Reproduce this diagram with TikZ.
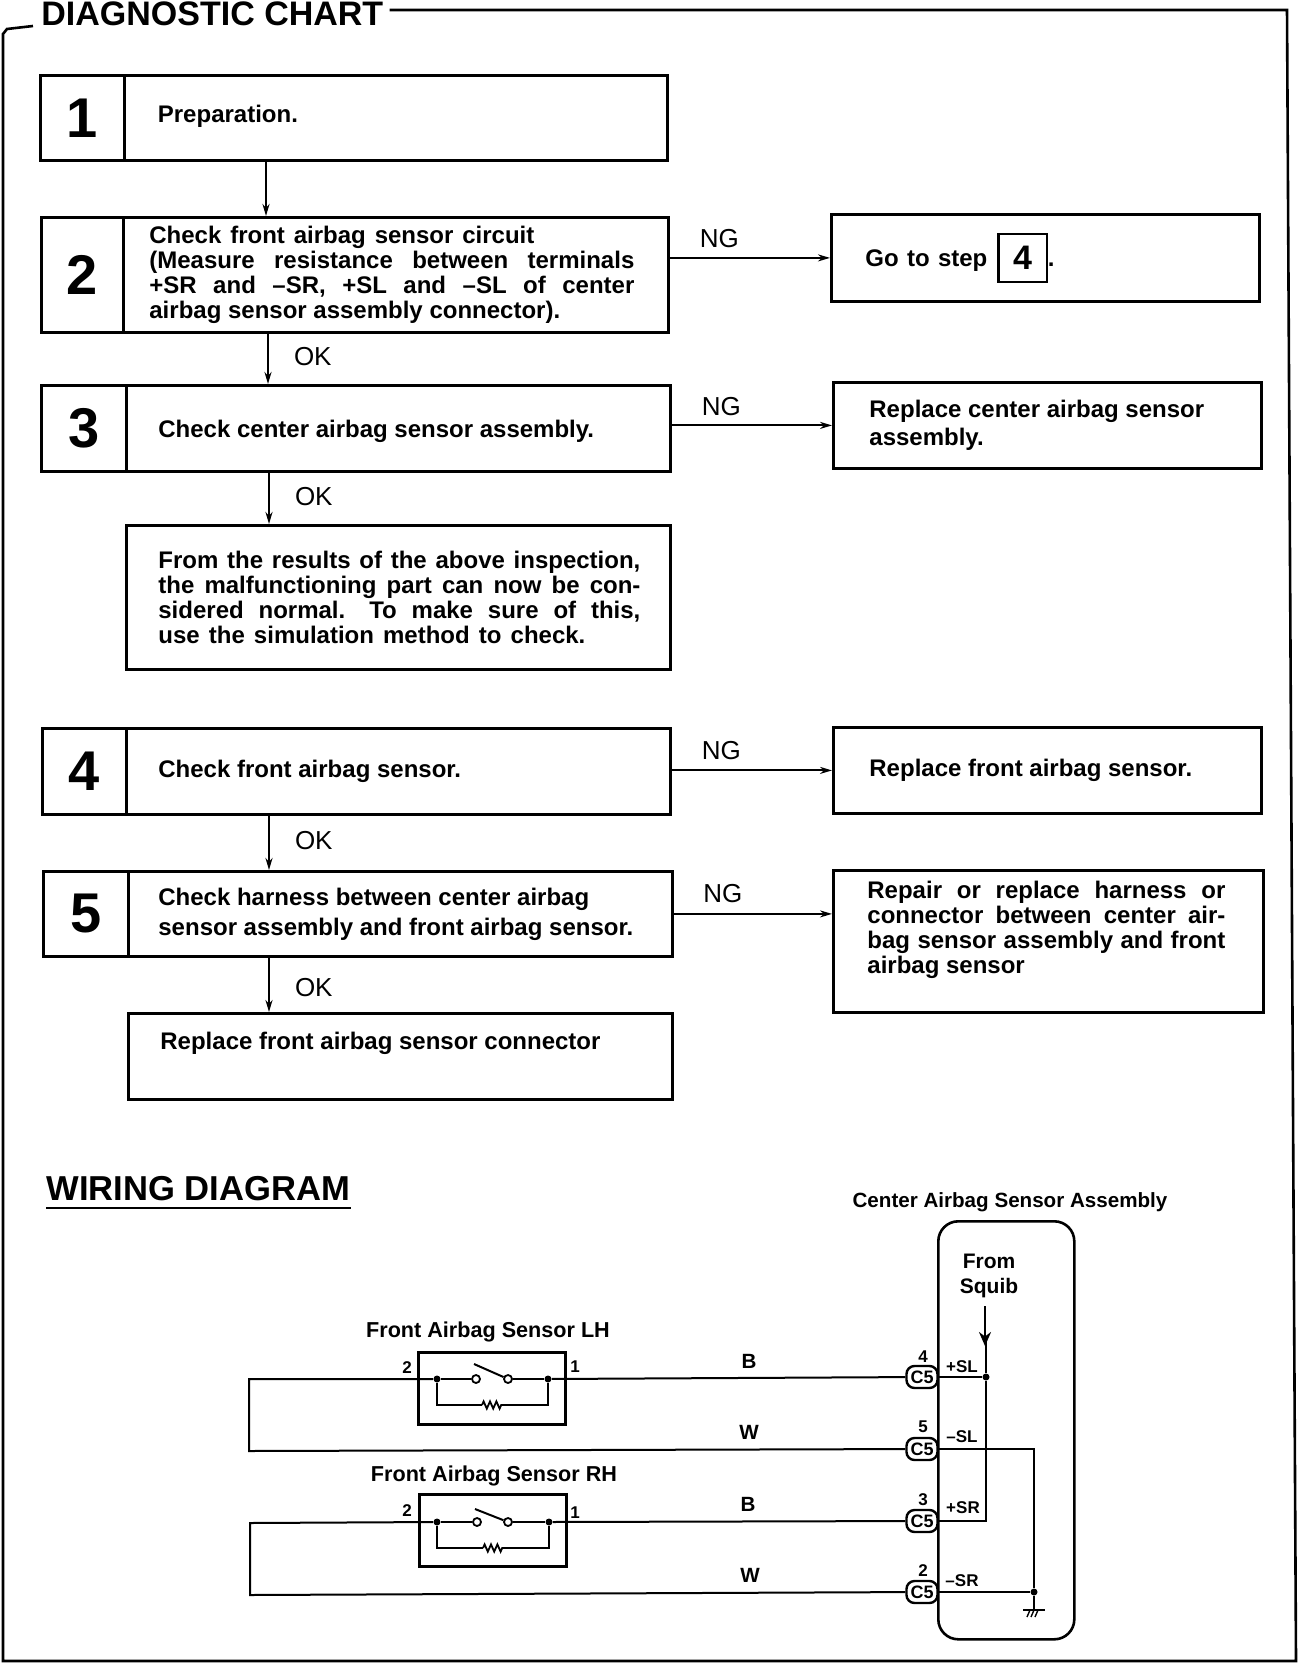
\documentclass[tikz,border=0pt]{standalone}
\usepackage{fontspec}
\setmainfont{Liberation Sans}
\usetikzlibrary{arrows.meta,decorations.pathmorphing}
\newcommand{\jline}[1]{\makebox[#1pt][s]}

\tikzset{
  numbox/.style={draw, line width=1.4pt, anchor=north west, inner sep=0pt,
    font=\bfseries\fontsize{28}{28}\selectfont},
  bodybox/.style={draw, line width=1.4pt, anchor=north west, align=flush left, inner ysep=0pt,
    font=\bfseries\fontsize{12}{12.5}\selectfont},
  flow/.style={line width=1pt, -{Stealth[length=6pt,width=3.5pt]}},
  tagtxt/.style={font=\fontsize{13}{13}\selectfont, inner sep=0pt},
  headtxt/.style={font=\bfseries\fontsize{17}{17}\selectfont, inner sep=3pt},
  captxt/.style={font=\bfseries\fontsize{10.3}{12.5}\selectfont, inner sep=0pt, align=center},
  frontcap/.style={font=\bfseries\fontsize{10.8}{12.5}\selectfont, inner sep=0pt},
  pintxt/.style={font=\bfseries\fontsize{8.5}{8.5}\selectfont, inner sep=0pt},
  conn/.style={draw, line width=1.2pt, rounded corners=4pt, minimum width=15.5pt,
    minimum height=11pt, inner sep=0pt, fill=white, font=\bfseries\fontsize{9}{9}\selectfont},
  jdot/.style={circle, fill=black, minimum size=3.5pt, inner sep=0pt},
  opendot/.style={circle, draw, fill=white, line width=0.9pt, minimum size=4pt, inner sep=0pt},
  wire/.style={line width=1pt},
  sensorbox/.style={draw, line width=1.3pt, anchor=north west, minimum width=73.5pt, minimum height=36pt, inner sep=0pt},
  zig/.style={line width=0.9pt, decorate, decoration={zigzag, amplitude=1.8pt, segment length=3.2pt}}
}

\begin{document}
\begin{tikzpicture}[x=0.5pt, y=-0.5pt]
  \useasboundingbox (0,0) rectangle (1312,1664);

  \node[headtxt, anchor=west] (chart) at (35,14) {DIAGNOSTIC CHART};
  \draw[line width=1.3pt] (chart.east) ++(0,-4) -- (1287,10) -- (1296,1661) -- (3,1661) -- (3,34) -- (7,29) -- (33,26);

  % steps on the left
  \node[numbox, minimum width=42pt, minimum height=42.5pt] (n1) at (39,74) {1};
  \node[bodybox, text width=238pt, inner xsep=16.75pt, minimum height=42.5pt] (b1) at (123,74) {Preparation.\\[-8.5pt]\mbox{}};

  \node[numbox, minimum width=41pt, minimum height=57.5pt] (n2) at (40,216) {2};
  \node[bodybox, text width=246.5pt, inner xsep=13pt, minimum height=57.5pt] (b2) at (122,216) {\jline{192.5}{Check front airbag sensor circuit}\\
    \jline{242.5}{(Measure resistance between terminals}\\
    \jline{242.5}{+SR and –SR, +SL and –SL of center}\\
    airbag sensor assembly connector).};

  \node[numbox, minimum width=42.5pt, minimum height=43pt] (n3) at (40,384) {3};
  \node[bodybox, text width=240pt, inner xsep=16pt, minimum height=43pt] (b3) at (125,384) {\rule{0pt}{12pt}Check center airbag sensor assembly.};
  \node[bodybox, text width=240pt, inner xsep=16pt, minimum height=72pt] (b3a) at (125,524) {\jline{241}{From the results of the above inspection,}\\
    \jline{241}{the malfunctioning part can now be con-}\\
    \jline{241}{sidered normal.\hspace*{1em}To make sure of this,}\\
    \jline{213.5}{use the simulation method to check.}};

  \node[numbox, minimum width=42pt, minimum height=43pt] (n4) at (41,727) {4};
  \node[bodybox, text width=240pt, inner xsep=16pt, minimum height=43pt] (b4) at (125,727) {Check front airbag sensor.};

  \node[numbox, minimum width=42.5pt, minimum height=42.5pt] (n5) at (42,870) {5};
  \node[bodybox, text width=242pt, inner xsep=15pt, minimum height=42.5pt] (b5) at (127,870) {Check harness between center airbag\\[2.5pt] sensor assembly and front airbag sensor.};
  \node[bodybox, text width=240pt, inner xsep=16pt, minimum height=43pt] (b5a) at (127,1012) {Replace front airbag sensor connector\\[3.5pt]\mbox{}};

  % results on the right
  \node[bodybox, text width=180pt, inner xsep=17pt, minimum height=43.5pt] (g1) at (830,213) {\jline{61}{Go to step}\kern5pt\setlength{\fboxrule}{1.1pt}\fbox{\makebox[17pt]{\rule[-4pt]{0pt}{17pt}\raisebox{-1.5pt}{\fontsize{17}{17}\selectfont 4}}}.};
  \node[bodybox, text width=178pt, inner xsep=18pt, minimum height=43pt] (g2) at (832,381) {Replace center airbag sensor\\[1.5pt]assembly.};
  \node[bodybox, text width=178pt, inner xsep=18pt, minimum height=43pt] (g4) at (832,726) {Replace front airbag sensor.};
  \node[bodybox, text width=181pt, inner xsep=17pt, minimum height=71pt] (g5) at (832,869) {\jline{179}{Repair or replace harness or}\\
    \jline{179}{connector between center air-}\\
    \jline{179}{bag sensor assembly and front}\\
    airbag sensor\\[1.5pt]\mbox{}};

  \coordinate (c1) at (266,0);
  \coordinate (c2) at (268,0);
  \coordinate (c3) at (269,0);

  \draw[flow] (b1.south -| c1) -- (b2.north -| c1);
  \draw[flow] (b2.south -| c2) -- node[tagtxt, pos=0.45, right=12.5pt] (ok2) {OK} (b3.north -| c2);
  \draw[flow] (b3.south -| c3) -- node[tagtxt, pos=0.46, right=12.5pt] (ok3) {OK} (b3a.north -| c3);
  \draw[flow] (b4.south -| c3) -- node[tagtxt, pos=0.46, right=12.5pt] (ok4) {OK} (b5.north -| c3);
  \draw[flow] (b5.south -| c3) -- node[tagtxt, pos=0.55, right=12.5pt] (ok5) {OK} (b5a.north -| c3);

  \draw[flow] (b2.east |- g1.west) -- node[tagtxt, pos=0.31, above=4.5pt] (ng2) {NG} (g1.west);
  \draw[flow] (b3.east |- g2.west) -- node[tagtxt, pos=0.31, above=4.5pt] (ng3) {NG} (g2.west);
  \draw[flow] (b4.east |- g4.west) -- node[tagtxt, pos=0.31, above=5pt] (ng4) {NG} (g4.west);
  \draw[flow] (b5.east) -- node[tagtxt, pos=0.31, above=5pt] (ng5) {NG} (b5.east -| g5.west);

  % wiring
  \node[headtxt, anchor=west, inner xsep=0pt, font=\bfseries\fontsize{17.3}{17.3}\selectfont] (wd) at (46,1189) {WIRING DIAGRAM};
  \draw[line width=1.2pt] (46,1208) -- (351,1208);

  \node[draw, line width=1.3pt, rounded corners=10pt, anchor=north west, minimum width=68pt, minimum height=209pt, inner sep=0pt] (asm) at (937,1220) {};
  \node[captxt] (asmcap) at (1010,1202) {Center Airbag Sensor Assembly};
  \node[captxt, font=\bfseries\fontsize{10.5}{12.5}\selectfont] (squib) at (989,1276) {From\\Squib};

  \node[conn] (c54) at (922,1377) {C5};
  \node[conn] (c55) at (922,1449) {C5};
  \node[conn] (c53) at (922,1521) {C5};
  \node[conn] (c52) at (922,1592) {C5};

  \node[pintxt] (p4) at (923,1357) {4};
  \node[pintxt] (p5) at (923,1427) {5};
  \node[pintxt] (p3) at (923,1500) {3};
  \node[pintxt] (p2) at (923,1571) {2};
  \node[pintxt] (psl) at (962,1367) {+SL};
  \node[pintxt] (msl) at (962,1437) {–SL};
  \node[pintxt] (psr) at (963,1508) {+SR};
  \node[pintxt] (msr) at (962,1581) {–SR};

  \node[jdot] (jsl) at (986,1377) {};
  \node[jdot] (jsr) at (1034,1592) {};
  \coordinate (sq) at (985,1306);
  \coordinate (gnd) at (1034,1610);

  \draw[wire, line width=1.2pt, -{Stealth[length=7pt,width=6pt]}] (sq) -- (985,1346);
  \draw[wire] (986,1340) -- (jsl);
  \draw[wire] (c54) -- (jsl);
  \draw[wire] (jsl) -- (986,1521) -- (c53);
  \draw[wire] (c55) -- (1034,1449) -- (jsr);
  \draw[wire] (c52) -- (jsr);
  \draw[wire] (jsr) -- (gnd);
  \draw[wire] (1023,1610) -- (1045,1610);
  \draw[line width=0.7pt] (1030,1610) -- (1027,1617);
  \draw[line width=0.7pt] (1034,1610) -- (1031,1617);
  \draw[line width=0.7pt] (1038,1610) -- (1035,1617);

  % front sensors
  \node[frontcap] (lhcap) at (488,1332) {Front Airbag Sensor LH};
  \node[sensorbox] (lh) at (417,1351) {};
  \node[jdot] (lh2) at (437,1379) {};
  \node[jdot] (lh1) at (548,1379) {};
  \node[opendot] (lha) at (476,1379) {};
  \node[opendot] (lhb) at (508,1379) {};
  \coordinate (lhr1) at (482,1405);
  \coordinate (lhr2) at (502,1405);
  \node[pintxt] (lhp2) at (407,1368) {2};
  \node[pintxt] (lhp1) at (575,1367) {1};
  \draw[wire] (lh2) -- (lha);
  \draw[wire] (lhb) -- (lh1);
  \draw[wire] (lhb) -- (474,1364);
  \draw[wire] (lh2) |- (lhr1);
  \draw[zig] (lhr1) -- (lhr2);
  \draw[wire] (lhr2) -| (lh1);
  \draw[wire] (c54) -- (lh1);
  \draw[wire] (lh2) -- (249,1379) -- (249,1451) -- (c55);

  \node[frontcap] (rhcap) at (494,1476) {Front Airbag Sensor RH};
  \node[sensorbox] (rh) at (418,1493) {};
  \node[jdot] (rh2) at (437,1522) {};
  \node[jdot] (rh1) at (549,1522) {};
  \node[opendot] (rha) at (477,1522) {};
  \node[opendot] (rhb) at (508,1522) {};
  \coordinate (rhr1) at (483,1548);
  \coordinate (rhr2) at (503,1548);
  \node[pintxt] (rhp2) at (407,1511) {2};
  \node[pintxt] (rhp1) at (575,1513) {1};
  \draw[wire] (rh2) -- (rha);
  \draw[wire] (rhb) -- (rh1);
  \draw[wire] (rhb) -- (475,1509);
  \draw[wire] (rh2) |- (rhr1);
  \draw[zig] (rhr1) -- (rhr2);
  \draw[wire] (rhr2) -| (rh1);
  \draw[wire] (c53) -- (rh1);
  \draw[wire] (rh2) -- (250,1523) -- (250,1595) -- (c52);

  \node[captxt] (wb1) at (749,1361) {B};
  \node[captxt] (ww1) at (749,1432) {W};
  \node[captxt] (wb2) at (748,1504) {B};
  \node[captxt] (ww2) at (750,1575) {W};

\end{tikzpicture}
\end{document}
